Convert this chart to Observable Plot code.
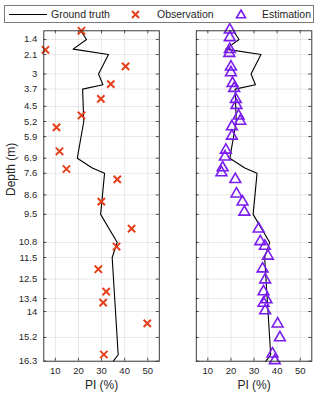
<!DOCTYPE html>
<html>
<head>
<meta charset="utf-8">
<script src="https://cdn.jsdelivr.net/npm/d3@7"></script>
<script src="https://cdn.jsdelivr.net/npm/@observablehq/plot@0.6"></script>
<style>
  html, body { margin: 0; padding: 0; background: #fff; }
  #wrap { position: relative; width: 321px; height: 398px; overflow: hidden; font-family: "Liberation Sans", Arial, Helvetica, sans-serif; color: #262626; }
  #legend { position: absolute; left: 4px; top: 5px; width: 308px; height: 16px; border: 1px solid #7a7a7a; background: #fff; }
  #legend svg { position: absolute; left: 0; top: 0; }
  .lt { position: absolute; top: 1.5px; font-size: 10.5px; line-height: 13px; white-space: nowrap; }
  #left, #right { position: absolute; top: 0; }
  #left { left: 0; }
  #right { left: 170px; }
</style>
</head>
<body>
<div id="wrap">
  <div id="left"></div>
  <div id="right"></div>
  <div id="legend">
    <svg width="308" height="16">
      <line x1="4" x2="42" y1="8.5" y2="8.5" stroke="#000" stroke-width="1"/>
      <path d="M127,5L134,12M134,5L127,12" stroke="#e6401a" stroke-width="2" fill="none"/>
      <path d="M236,4L240.5,11.8L231.5,11.8Z" stroke="#7a1cf0" stroke-width="1.6" fill="none"/>
    </svg>
    <span class="lt" style="left:46px">Ground truth</span>
    <span class="lt" style="left:152px">Observation</span>
    <span class="lt" style="left:257px">Estimation</span>
  </div>
</div>
<script>
// ---- data ----
const xTicks = [10, 20, 30, 40, 50];
const yTicks = [1.4, 2.1, 3, 3.7, 4.5, 5.2, 5.9, 6.9, 7.6, 8.6, 9.5, 10.8, 11.5, 12.5, 13.4, 14, 15.2, 16.3];

const gtDepth = [1.0, 1.4, 1.85, 2.1, 3.0, 3.5, 3.7, 5.2, 6.9, 7.35, 7.6, 9.5, 10.8, 11.5, 16.0, 16.3];
const gtPI    = [21, 23.5, 17.7, 33, 28.7, 30.6, 21.8, 22.3, 19.5, 26, 31.3, 29.6, 36.8, 34.6, 37.2, 35.1];

const obsDepth = [1.0, 1.88, 2.65, 3.47, 4.15, 4.92, 5.47, 6.58, 7.4, 7.88, 8.91, 10.16, 10.99, 12.04, 13.08, 13.59, 14.55, 15.99];
const obsPI    = [21.3, 5.7, 40.4, 34.0, 29.7, 21.3, 10.5, 11.8, 14.8, 36.8, 29.9, 43.0, 36.5, 28.6, 32.0, 30.7, 49.8, 31.0];

const estDepth = [0.96, 1.31, 1.86, 2.04, 2.67, 2.94, 3.43, 3.66, 4.17, 4.45, 4.94, 5.18, 5.44, 5.87, 6.52, 6.84, 7.34, 7.57, 7.88, 8.55, 8.92, 9.39, 10.17, 10.76, 10.97, 11.43, 12.02, 12.53, 13.08, 13.45, 13.61, 13.96, 14.57, 15.21, 15.96, 16.27];
const estPI    = [19.5, 19.5, 19.5, 19.3, 20.0, 20.0, 20.7, 21.4, 22.1, 22.4, 23.3, 24.0, 20.4, 20.4, 17.8, 17.4, 16.4, 15.9, 21.9, 22.4, 25.0, 25.8, 32.0, 32.7, 34.7, 36.0, 33.7, 34.8, 34.1, 35.4, 34.1, 34.8, 40.2, 41.2, 38.0, 39.0];

const gt  = gtDepth.map((d, i) => ({depth: d, pi: gtPI[i]}));
const obs = obsDepth.map((d, i) => ({depth: d, pi: obsPI[i]}));
const est = estDepth.map((d, i) => ({depth: d, pi: estPI[i]}));

const axisColor = "#262626";
const H = 398, mTop = 30.3, mBottom = 37.3;
const panelW = 115.5, panelH = H - mTop - mBottom;

function panel({width, marginLeft, showY, points}) {
  const marks = [
    Plot.gridX({ticks: xTicks, stroke: "#000", strokeOpacity: 0.13, strokeWidth: 0.7}),
    Plot.gridY({ticks: yTicks, stroke: "#000", strokeOpacity: 0.13, strokeWidth: 0.7}),
    // inward ticks on all four sides
    Plot.tickY(yTicks, {y: d => d, insetRight: panelW - 3, stroke: axisColor, strokeWidth: 0.8}),
    Plot.tickY(yTicks, {y: d => d, insetLeft: panelW - 3, stroke: axisColor, strokeWidth: 0.8}),
    Plot.tickX(xTicks, {x: d => d, insetTop: panelH - 3, stroke: axisColor, strokeWidth: 0.8}),
    Plot.tickX(xTicks, {x: d => d, insetBottom: panelH - 3, stroke: axisColor, strokeWidth: 0.8}),
    Plot.axisX({ticks: xTicks, tickSize: 0, tickPadding: 6, label: null, fontSize: 9.5, fill: axisColor}),
    Plot.text(["PI (%)"], {frameAnchor: "bottom", dy: 27.5, fontSize: 12, fill: axisColor})
  ];
  if (showY) {
    marks.push(Plot.axisY({ticks: yTicks, tickSize: 0, tickPadding: 6.5, label: null, fontSize: 9.5, fill: axisColor, tickFormat: d => String(d)}));
    marks.push(Plot.text(["Depth (m)"], {frameAnchor: "left", dx: -33, rotate: -90, fontSize: 12, fill: axisColor}));
  }
  marks.push(Plot.line(gt, {x: "pi", y: "depth", stroke: "#000", strokeWidth: 1.1}));
  if (points === "obs") {
    marks.push(Plot.dot(obs, {x: "pi", y: "depth", symbol: "times", r: 3.4, stroke: "#e6401a", strokeWidth: 2}));
  } else {
    marks.push(Plot.dot(est, {x: "pi", y: "depth", symbol: "triangle", r: 4, stroke: "#7a1cf0", strokeWidth: 1.6, fill: "none"}));
  }
  marks.push(Plot.frame({stroke: axisColor, strokeWidth: 0.9}));
  return Plot.plot({
    width, height: H,
    marginLeft, marginRight: width - marginLeft - panelW, marginTop: mTop, marginBottom: mBottom,
    x: {domain: [5, 55], ticks: xTicks, label: null},
    y: {domain: [1, 16.3], reverse: true, ticks: yTicks, label: null, axis: showY ? undefined : null},
    style: {fontFamily: "'Liberation Sans', Arial, Helvetica, sans-serif", fontSize: "9.5px", color: axisColor, background: "transparent", overflow: "visible"},
    marks
  });
}

document.getElementById("left").append(panel({width: 170, marginLeft: 43.3, showY: true, points: "obs"}));
document.getElementById("right").append(panel({width: 151, marginLeft: 25.8, showY: false, points: "est"}));
</script>
</body>
</html>
